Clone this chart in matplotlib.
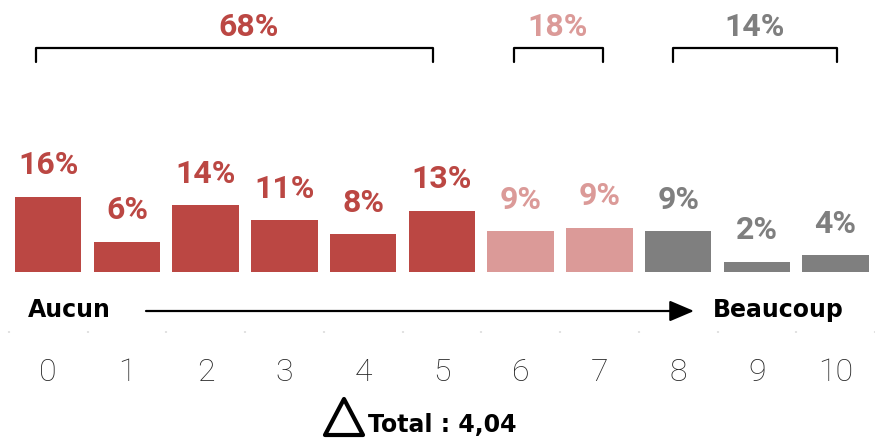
import matplotlib
matplotlib.use("Agg")
import matplotlib.pyplot as plt
from matplotlib.patches import Polygon
import numpy as np

# ---------------- data ----------------
categories = ["0", "1", "2", "3", "4", "5", "6", "7", "8", "9", "10"]
values = [15.8, 6.4, 14.0, 10.9, 7.9, 12.9, 8.6, 9.3, 8.6, 2.2, 3.6]
groups = [(0, 5), (6, 7), (8, 10)]          # index ranges of the three groups
group_colors = ["#BB4743", "#DB9A98", "#7F7F7F"]
left_label = "Aucun"
right_label = "Beaucoup"
total_label = "Total : 4,04"

# ---------------- figure ----------------
W, H = 875, 440
fig = plt.figure(figsize=(W / 100, H / 100), dpi=100)

axis_px = 331.0                                     # axis line (pixel row)
ax = fig.add_axes([0, (H - axis_px) / H, 1, axis_px / H])
x = np.arange(len(categories))
bar_colors = []
for gi, (a, b) in enumerate(groups):
    bar_colors += [group_colors[gi]] * (b - a + 1)

step = 79.3
x0 = 48.5
ax.set_xlim(-x0 / step, (W - x0) / step)
ppu = 4.785                                          # px per percent
base_px = 272.3
ax.set_ylim((base_px - axis_px) / ppu, base_px / ppu)

ax.bar(x, values, width=0.845, color=bar_colors, zorder=2)

label_font = dict(family=["Roboto", "DejaVu Sans"], weight="bold", size=23)
for xi, v, c in zip(x, values, bar_colors):
    ax.text(xi, v + 22.5 / ppu, f"{round(v):d}%", ha="center", va="baseline",
            color=c, **label_font)

# group brackets and totals
bracket_ext = [(-0.16, 4.89), (5.92, 7.04), (7.93, 10.02)]
group_label_x = [2.54, 6.47, 8.97]
top_y = (base_px - 47.7) / ppu
end_y = (base_px - 62.0) / ppu
for gi, (a, b) in enumerate(groups):
    total = sum(values[a:b + 1])
    l, r = bracket_ext[gi]
    ax.plot([l, l, r, r], [end_y, top_y, top_y, end_y], color="black",
            lw=1.6, solid_joinstyle="round", solid_capstyle="round", zorder=3)
    ax.text(group_label_x[gi], (base_px - 36) / ppu, f"{round(total):d}%",
            ha="center", va="baseline", color=group_colors[gi], **label_font)

# ticks
ax.set_xticks(x)
ax.set_xticklabels(categories, family=["Roboto", "DejaVu Sans"], weight="light",
                   size=23, color="#262626")
ax.tick_params(axis="x", which="major", length=0, pad=19.5)
ax.set_xticks(np.arange(-0.5, len(categories), 1.0), minor=True)
ax.tick_params(axis="x", which="minor", length=1.5, width=1.5, color="#e2e2e2",
               direction="out")
ax.set_yticks([])
for s in ax.spines.values():
    s.set_visible(False)

# ---------------- overlay annotations (pixel coordinates) ----------------
ov = fig.add_axes([0, 0, 1, 1], facecolor="none")
ov.set_xlim(0, W)
ov.set_ylim(H, 0)
ov.axis("off")

word_font = dict(family=["DejaVu Sans"], weight="bold", size=17, color="black")
ov.text(28, 317.3, left_label, ha="left", va="baseline", **word_font)
ov.text(712.5, 317.3, right_label, ha="left", va="baseline", **word_font)
ov.annotate("", xy=(694, 311), xytext=(146, 311),
            arrowprops=dict(arrowstyle="-|>,head_length=0.75,head_width=0.32",
                            lw=1.6, color="black", shrinkA=0, shrinkB=0,
                            mutation_scale=20))

tri = Polygon([(325, 435), (344, 399), (363, 435)], closed=True, fill=False,
              edgecolor="black", lw=3.0, joinstyle="round")
ov.add_patch(tri)
ov.text(368, 432, total_label, ha="left", va="baseline", **word_font)

fig.savefig("out.png", dpi=100)
